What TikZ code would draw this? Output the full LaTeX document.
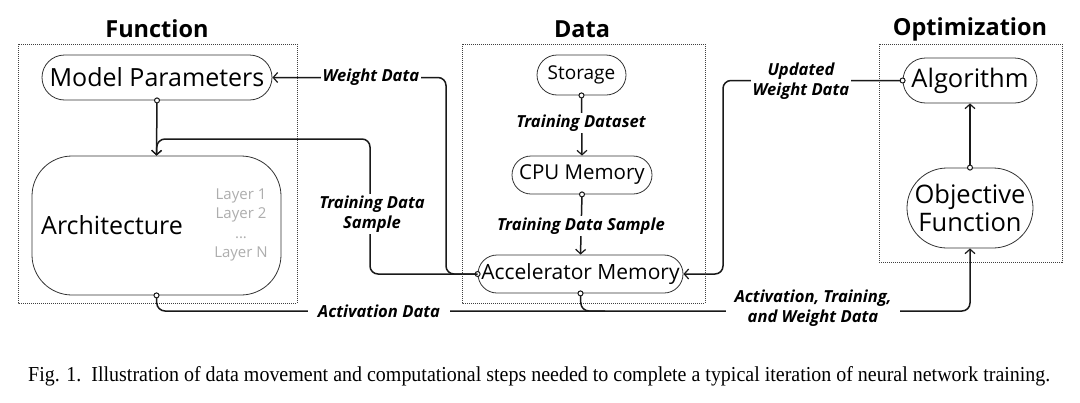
\documentclass[tikz,border=0pt]{standalone}
\usepackage{fontspec}
\usepackage{graphicx}
\newfontfamily\dfont{Open Sans}
\newfontfamily\capfont{Liberation Serif}
\usetikzlibrary{arrows.meta}
\tikzset{
  conn/.style={line width=1.5pt, draw=black!90, rounded corners=8pt},
  ca/.style={conn, {Circle[open,fill=white,length=6pt,width=6pt,line width=1pt]}-{Straight Barb[length=4.5pt,width=10pt,line width=1.2pt]}, shorten <=-3pt},
  c0/.style={conn, {Circle[open,fill=white,length=6pt,width=6pt,line width=1pt]}-, shorten <=-3pt},
  a0/.style={conn, -{Straight Barb[length=4.5pt,width=10pt,line width=1.2pt]}},
  nd/.style={draw=black!80, line width=0.8pt, inner sep=0pt},
  lbl/.style={font=\dfont\bfseries\itshape\fontsize{16.6}{19.5}\selectfont, fill=white, inner sep=2pt, align=center},
  ttl/.style={font=\dfont\bfseries\fontsize{23.5}{27}\selectfont},
  grp/.style={draw=black!75, line width=0.8pt, dash pattern=on 1pt off 1pt},
}
\begin{document}
\begin{tikzpicture}[x=1pt,y=-1pt]
\useasboundingbox (0,0) rectangle (1080,402);
% group boxes
\draw[grp] (18,44) rectangle (297,303);
\draw[grp] (462,44) rectangle (705,303);
\draw[grp] (879,44) rectangle (1062,262);
% titles
\node[ttl] (tf) at (157,29) {Function};
\node[ttl] (td) at (582,29) {Data};
\node[ttl] (to) at (970,29) {Optimization};
% function nodes
\node[nd, rounded corners=22.5pt, minimum width=230pt, minimum height=45pt, font=\dfont\fontsize{25}{28}\selectfont] (mp) at (157,77.5) {Model Parameters};
\node[nd, rounded corners=40pt, minimum width=249pt, minimum height=139pt] (arch) at (156.5,225.5) {};
\node[anchor=west, inner sep=0pt, font=\dfont\fontsize{25}{28}\selectfont] (archt) at (41,225) {Architecture};
\node[text=black!32, align=center, inner sep=0pt, font=\dfont\fontsize{15}{19.5}\selectfont] (layers) at (241,225) {Layer 1\\Layer 2\\...\\Layer N};
% data nodes
\node[nd, rounded corners=20pt, minimum width=89pt, minimum height=40pt, font=\dfont\fontsize{19}{24}\selectfont] (st) at (581.5,75) {Storage};
\node[nd, rounded corners=19pt, minimum width=140pt, minimum height=38pt, font=\dfont\fontsize{20.5}{24}\selectfont] (cpu) at (582,175) {CPU Memory};
\node[nd, rounded corners=19pt, minimum width=205pt, minimum height=38pt, font=\dfont\fontsize{21}{24}\selectfont] (acc) at (580.5,274) {Accelerator Memory};
% optimization nodes
\node[nd, rounded corners=22.5pt, minimum width=134pt, minimum height=45pt, font=\dfont\fontsize{25.5}{28}\selectfont] (alg) at (970,80.5) {Algorithm};
\node[nd, rounded corners=40pt, minimum width=126pt, minimum height=80pt, align=center, font=\dfont\fontsize{25.5}{28}\selectfont] (obj) at (970,208) {Objective\\Function};
% connectors
\draw[ca] (mp.south) -- (arch.north);
\draw[ca] (acc.west) -- (370,274) -- (370,139) -- (157,139) -- (arch.north);
\draw[a0] (acc.west) -- (446,274) -- (446,77.5) -- (mp.east);
\draw[ca] (st.south) -- (cpu.north);
\draw[ca] (cpu.south) -- (acc.north);
\draw[ca] (alg.west) -- (723,80.5) -- (723,274) -- (acc.east);
\draw[ca] (obj.north) -- (alg.south);
\draw[ca] (arch.south) -- (157,311) -- (970,311) -- (obj.south);
\draw[c0] (acc.south) -- (581,311) -- (605,311);
% labels
\node[lbl] (lwd) at (371,77.5) {Weight Data};
\node[lbl] (ltds) at (372,214) {Training Data\\Sample};
\node[lbl] (ltd) at (581,123) {Training Dataset};
\node[lbl] (ltds2) at (581,226) {Training Data Sample};
\node[lbl] (luwd) at (801,81) {Updated\\Weight Data};
\node[lbl, inner xsep=10pt] (lad) at (379,311) {Activation Data};
\node[lbl, inner xsep=9pt] (latw) at (813,308) {Activation, Training,\\and Weight Data};
% caption
\node[anchor=base west, inner sep=0pt] (cap) at (28,381.5) {\resizebox{1022pt}{15pt}{\capfont Fig. 1.\ \ Illustration of data movement and computational steps needed to complete a typical iteration of neural network training.}};
\end{tikzpicture}
\end{document}
